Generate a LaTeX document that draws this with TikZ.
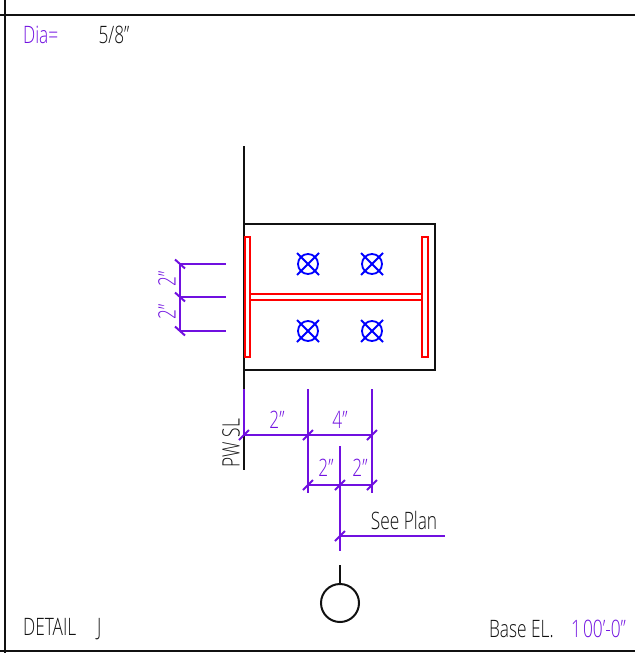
\documentclass[tikz,border=0pt]{standalone}
\usepackage{fontspec}
\setmainfont{Open Sans}[UprightFont=* Light]
\definecolor{dimc}{HTML}{7010E0}
\definecolor{boltc}{HTML}{0000FF}
\definecolor{memc}{HTML}{FF0000}
\definecolor{inkc}{HTML}{111111}
\tikzset{
  x=1pt,y=-1pt,
  frameline/.style={draw=inkc,line width=2pt},
  objline/.style={draw=inkc,line width=2pt},
  memline/.style={draw=memc,line width=2pt},
  boltline/.style={draw=boltc,line width=1.8pt},
  dimline/.style={draw=dimc,line width=2pt},
  dimtext/.style={text=dimc,font=\fontsize{24}{24}\selectfont,xscale=.72,inner sep=0pt},
  inktext/.style={text=inkc,font=\fontsize{24}{24}\selectfont,xscale=.72,inner sep=0pt},
}
\begin{document}
\begin{tikzpicture}
\useasboundingbox (0,0) rectangle (635,653);
% frame
\coordinate (ftl) at (0,15); \coordinate (ftr) at (635,15);
\coordinate (flt) at (5,0);  \coordinate (flb) at (5,653);
\coordinate (fbl) at (0,651); \coordinate (fbr) at (635,651);
\draw[frameline] (ftl) -- (ftr);
\draw[frameline] (flt) -- (flb);
\draw[frameline] (fbl) -- (fbr);
% wall and plate
\coordinate (wt) at (244,146); \coordinate (wb) at (244,470);
\draw[objline] (wt) -- (wb);
\draw[objline] (244,224) rectangle (435,370);
% bolts
\foreach \cx/\cy in {308/264,372/264,308/331,372/331}{
  \draw[boltline] (\cx,\cy) circle (10);
  \draw[boltline] (\cx-11,\cy-11) -- (\cx+11,\cy+11);
  \draw[boltline] (\cx-11,\cy+11) -- (\cx+11,\cy-11);
}
% steel section
\draw[memline] (245,237) rectangle (250,357);
\draw[memline] (422,237) rectangle (428,357);
\draw[memline] (250,294) rectangle (422,300);
% left dimensions
\coordinate (la) at (180,264); \coordinate (lb) at (180,297); \coordinate (lc) at (180,331);
\coordinate (lae) at (226,264); \coordinate (lbe) at (226,297); \coordinate (lce) at (226,331);
\draw[dimline] (la) -- (lc);
\foreach \p/\e in {la/lae,lb/lbe,lc/lce}{
  \draw[dimline] (\p) -- (\e);
  \draw[dimline] ([shift={(-5,-4.5)}]\p) -- ([shift={(5,4.5)}]\p);
}
\node[rotate=90,dimtext] (ltop) at (167,279) {2"};
\node[rotate=90,dimtext] (lbot) at (167,312) {2"};
% bottom dimensions
\coordinate (wd) at (244,389); \coordinate (d1) at (244,435);
\coordinate (d2) at (308,435); \coordinate (d3) at (372,435);
\coordinate (e2t) at (308,389); \coordinate (e2b) at (308,493);
\coordinate (e3t) at (372,389); \coordinate (e3b) at (372,493);
\coordinate (g2) at (308,485); \coordinate (g3) at (340,485); \coordinate (g4) at (372,485);
\coordinate (ct) at (340,446); \coordinate (cb) at (340,551);
\coordinate (p1) at (340,536); \coordinate (p2) at (445,536);
\draw[dimline] (wd) -- (d1);
\draw[dimline] (e2t) -- (e2b);
\draw[dimline] (e3t) -- (e3b);
\draw[dimline] (d1) -- (d3);
\draw[dimline] (g2) -- (g4);
\draw[dimline] (ct) -- (cb);
\draw[dimline] (p1) -- (p2);
\foreach \p in {d1,d2,d3,g2,g3,g4,p1}{
  \draw[dimline] ([shift={(-5,5)}]\p) -- ([shift={(5,-5)}]\p);
}
\node[dimtext] (t2a) at (277,420) {2"};
\node[dimtext] (t4) at (340,420) {4"};
\node[dimtext] (t2b) at (326,468) {2"};
\node[dimtext] (t2c) at (360,468) {2"};
% column bubble
\node[circle,draw=inkc,line width=2pt,minimum size=38pt,inner sep=0pt] (bub) at (340,603) {};
\coordinate (st) at (340,565);
\draw[objline] (st) -- (bub.north);
% labels
\node[rotate=90,inktext] (pw) at (231,443) {PW SL};
\node[inktext] (plan) at (404,520) {See Plan};
\node[dimtext,anchor=west] (dia) at (23,35) {Dia=};
\node[inktext] (dval) at (114,35) {5/8"};
\node[inktext,anchor=west] (det) at (23,629) {DETAIL\hspace{29pt}J};
\node[inktext,anchor=west] (base) at (489,629) {Base EL.};
\node[dimtext,anchor=east] (elev) at (626,629) {1\hspace{3pt}00'-0"};
\end{tikzpicture}
\end{document}
